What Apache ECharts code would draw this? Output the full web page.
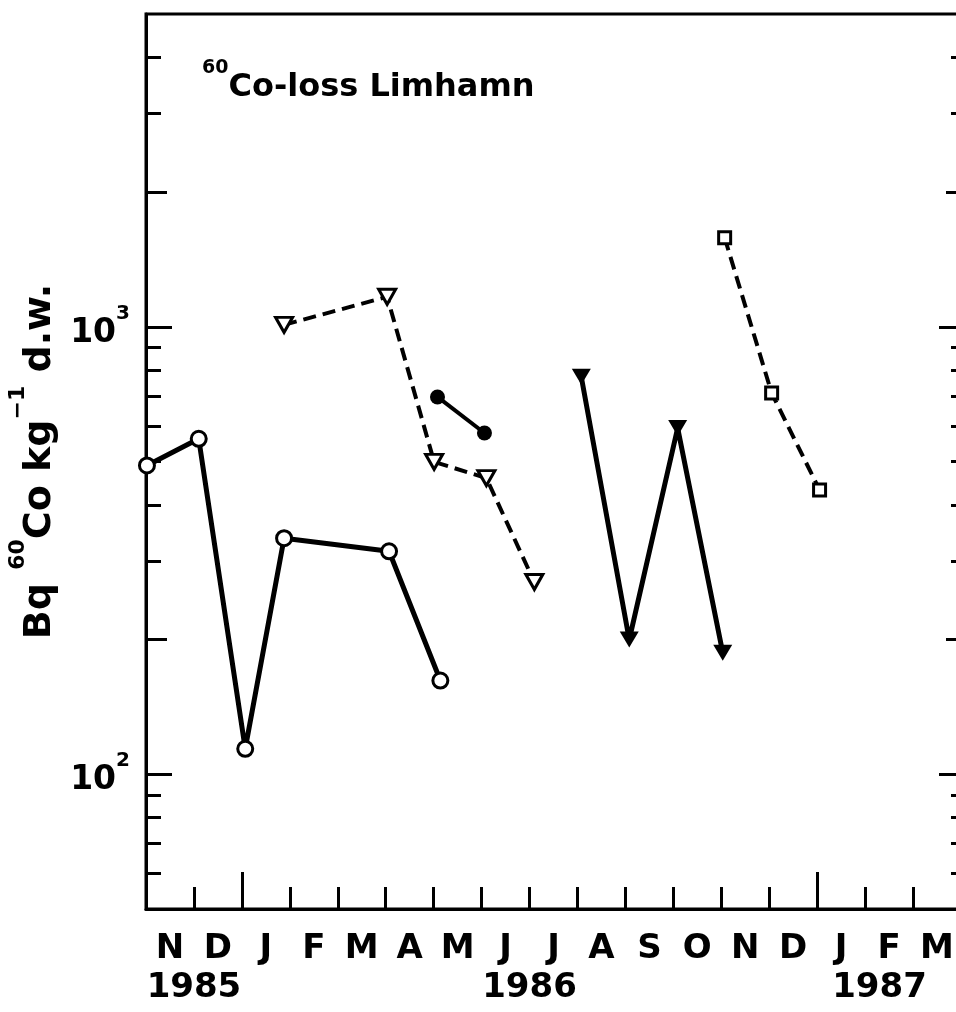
<!DOCTYPE html>
<html>
<head>
<meta charset="utf-8">
<script src="https://cdn.jsdelivr.net/npm/echarts@6/dist/echarts.min.js"></script>
<style>
  html, body { margin: 0; padding: 0; background: #fff; }
  #chart { width: 956px; height: 1012px; }
</style>
</head>
<body>
<div id="chart"></div>
<script>
// Time axis: months counted from 1 Nov 1985 (0) to 1 Apr 1987 (17)
const monthLetters = ['N', 'D', 'J', 'F', 'M', 'A', 'M', 'J', 'J', 'A', 'S', 'O', 'N', 'D', 'J', 'F', 'M'];
const monthStartTicks = [1, 3, 4, 5, 6, 7, 8, 9, 10, 11, 12, 13, 15, 16];
const januaryTicks = [2, 14];
const yearLabels = ['1985', '1986', '1987'];
const yearLabelAt = [1, 8, 15.3];

// Log axis ticks (Bq kg-1)
const decadeTicks = [100, 1000];
const midTicks = [200, 2000];
const minorTicks = [60, 70, 80, 90, 300, 400, 500, 600, 700, 800, 900, 3000, 4000];

// Series: sampling time (months) and activity (Bq 60Co kg-1 d.w.)
const openCircleT = [0.02, 1.1, 2.07, 2.88, 5.07, 6.14];
const openCircleV = [490, 562, 114, 337, 315, 162];

const openTriangleT = [2.88, 5.03, 6.01, 7.1, 8.1];
const openTriangleV = [1010, 1167, 499, 459, 269];

const filledCircleT = [6.08, 7.06];
const filledCircleV = [697, 579];

const filledTriangleT = [9.08, 10.08, 11.09, 12.03];
const filledTriangleV = [773, 200, 594, 187];

const openSquareT = [12.07, 13.05, 14.05];
const openSquareV = [1581, 711, 432];

const FONT = 'DejaVu Sans';
const INK = '#000';

const pairs = (t, v) => t.map((x, i) => [x, v[i]]);

const gridRect = { left: 146, right: -5, top: 14, bottom: 103, outerBoundsMode: 'none' };

const tickStyle = { color: INK, width: 3 };

function yAxisDef(gridIndex, position, ticks, len, extra) {
  return Object.assign({
    type: 'log', logBase: 10, min: 50, max: 5000, gridIndex, position,
    axisLine: { show: false, onZero: false },
    splitLine: { show: false },
    axisTick: { show: true, inside: true, length: len, customValues: ticks, lineStyle: tickStyle },
    axisLabel: { show: false }
  }, extra || {});
}

function hiddenX(gridIndex, position) {
  return {
    type: 'value', min: 0, max: 17, gridIndex, position,
    axisLine: { show: false, onZero: false }, axisTick: { show: false }, axisLabel: { show: false }, splitLine: { show: false }
  };
}

const chart = echarts.init(document.getElementById('chart'), null, { renderer: 'canvas' });

const option = {
  animation: false,
  backgroundColor: '#fff',
  title: {
    text: '{s|60}{m|Co-loss Limhamn}',
    left: 202, top: 59, padding: 0,
    textStyle: {
      rich: {
        s: { fontFamily: FONT, fontWeight: 'bold', fontSize: 19, lineHeight: 19, verticalAlign: 'top', color: INK },
        m: { fontFamily: FONT, fontWeight: 'bold', fontSize: 32, lineHeight: 45, verticalAlign: 'bottom', color: INK }
      }
    }
  },
  grid: [
    Object.assign({ show: true, borderColor: INK, borderWidth: 3, backgroundColor: 'transparent' }, gridRect),
    Object.assign({}, gridRect),
    Object.assign({}, gridRect)
  ],
  xAxis: [
    {
      type: 'value', min: 0, max: 17, gridIndex: 0, position: 'bottom',
      axisLine: { show: true, onZero: false, lineStyle: tickStyle },
      splitLine: { show: false },
      axisTick: { show: true, inside: true, length: 22, customValues: monthStartTicks, lineStyle: tickStyle },
      axisLabel: {
        customValues: monthLetters.map((m, i) => i + 0.5),
        formatter: v => monthLetters[Math.floor(v)],
        margin: 23, fontSize: 34, fontWeight: 'bold', fontFamily: FONT, color: INK
      }
    },
    hiddenX(0, 'top'),
    {
      type: 'value', min: 0, max: 17, gridIndex: 1, position: 'bottom',
      axisLine: { show: false, onZero: false },
      splitLine: { show: false },
      axisTick: { show: true, inside: true, length: 37, customValues: januaryTicks, lineStyle: tickStyle },
      axisLabel: {
        customValues: yearLabelAt,
        formatter: v => yearLabels[yearLabelAt.indexOf(v)],
        margin: 62, fontSize: 34, fontWeight: 'bold', fontFamily: FONT, color: INK
      }
    },
    hiddenX(2, 'bottom')
  ],
  yAxis: [
    yAxisDef(0, 'left', decadeTicks, 26, {
      axisLine: { show: true, onZero: false, lineStyle: tickStyle },
      axisLabel: {
        show: true,
        customValues: decadeTicks,
        margin: 16,
        formatter: v => '{b|10}{s|' + Math.round(Math.log10(v)) + '}',
        rich: {
          b: { fontFamily: FONT, fontWeight: 'bold', fontSize: 33, lineHeight: 46, verticalAlign: 'bottom', color: INK },
          s: { fontFamily: FONT, fontWeight: 'bold', fontSize: 20, lineHeight: 20, verticalAlign: 'top', color: INK }
        }
      },
      name: '{t|Bq }{s|60}{t|Co kg}{s|−1}{t| d.w.}',
      nameLocation: 'middle',
      nameRotate: 90,
      nameGap: 76,
      nameTextStyle: {
        rich: {
          t: { fontFamily: FONT, fontWeight: 'bold', fontSize: 38, lineHeight: 52, verticalAlign: 'bottom', color: INK },
          s: { fontFamily: FONT, fontWeight: 'bold', fontSize: 22, lineHeight: 22, verticalAlign: 'top', color: INK }
        }
      }
    }),
    yAxisDef(0, 'right', decadeTicks, 22),
    yAxisDef(1, 'left', minorTicks, 15),
    yAxisDef(1, 'right', minorTicks, 10),
    yAxisDef(2, 'left', midTicks, 21),
    yAxisDef(2, 'right', midTicks, 15)
  ],
  series: [
    {
      name: 'open circles', type: 'line', xAxisIndex: 0, yAxisIndex: 0,
      data: pairs(openCircleT, openCircleV),
      symbol: 'circle', symbolSize: 15,
      itemStyle: { color: '#fff', borderColor: INK, borderWidth: 3 },
      lineStyle: { color: INK, width: 5 },
      z: 3
    },
    {
      name: 'open triangles', type: 'line', xAxisIndex: 0, yAxisIndex: 0,
      data: pairs(openTriangleT, openTriangleV),
      symbol: 'triangle', symbolRotate: 180, symbolSize: [17, 15],
      itemStyle: { color: '#fff', borderColor: INK, borderWidth: 3 },
      lineStyle: { color: INK, width: 4, type: [13, 7] },
      z: 3
    },
    {
      name: 'filled circles', type: 'line', xAxisIndex: 0, yAxisIndex: 0,
      data: pairs(filledCircleT, filledCircleV),
      symbol: 'circle', symbolSize: 15,
      itemStyle: { color: INK, borderColor: INK, borderWidth: 0 },
      lineStyle: { color: INK, width: 4 },
      z: 3
    },
    {
      name: 'filled triangles', type: 'line', xAxisIndex: 0, yAxisIndex: 0,
      data: pairs(filledTriangleT, filledTriangleV),
      symbol: 'triangle', symbolRotate: 180, symbolSize: [19, 16],
      itemStyle: { color: INK, borderColor: INK, borderWidth: 0 },
      lineStyle: { color: INK, width: 5 },
      z: 3
    },
    {
      name: 'open squares', type: 'line', xAxisIndex: 0, yAxisIndex: 0,
      data: pairs(openSquareT, openSquareV),
      symbol: 'rect', symbolSize: 12,
      itemStyle: { color: '#fff', borderColor: INK, borderWidth: 3 },
      lineStyle: { color: INK, width: 4, type: [13, 7] },
      z: 3
    }
  ]
};

chart.setOption(option);
</script>
</body>
</html>
